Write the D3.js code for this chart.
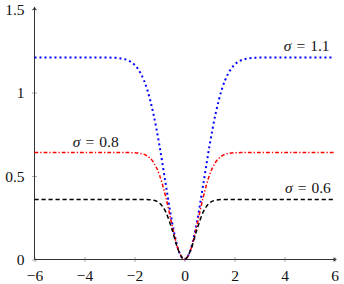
<!DOCTYPE html>
<html>
<head>
<meta charset="utf-8">
<script src="https://cdn.jsdelivr.net/npm/d3@7"></script>
<style>
  html, body { margin: 0; padding: 0; background: #fff; }
  svg { display: block; }
  svg text { font-family: "Liberation Serif", "DejaVu Serif", serif !important; }
</style>
</head>
<body>
<svg id="chart" width="344" height="284"></svg>
<script>
// ---- data ----
const xValues = [-6,-5,-4,-3.5,-3,-2.75,-2.5,-2.25,-2,-1.75,-1.5,-1.25,-1,-0.75,-0.5,-0.25,0,
                 0.25,0.5,0.75,1,1.25,1.5,1.75,2,2.25,2.5,2.75,3,3.5,4,5,6];
const sigma11 = [1.21,1.21,1.21,1.21,1.209,1.208,1.203,1.192,1.166,1.114,1.022,0.877,0.681,0.450,0.226,0.061,0,
                 0.061,0.226,0.450,0.681,0.877,1.022,1.114,1.166,1.192,1.203,1.208,1.209,1.21,1.21,1.21,1.21];
const sigma08 = [0.64,0.64,0.64,0.64,0.64,0.64,0.64,0.64,0.639,0.635,0.621,0.584,0.506,0.374,0.207,0.060,0,
                 0.060,0.207,0.374,0.506,0.584,0.621,0.635,0.639,0.64,0.64,0.64,0.64,0.64,0.64,0.64,0.64];
const sigma06 = [0.36,0.36,0.36,0.36,0.36,0.36,0.36,0.36,0.36,0.36,0.359,0.355,0.338,0.285,0.180,0.057,0,
                 0.057,0.180,0.285,0.338,0.355,0.359,0.36,0.36,0.36,0.36,0.36,0.36,0.36,0.36,0.36,0.36];
const seriesNames = ["1.1", "0.8", "0.6"];
const xTicks = [-6,-4,-2,0,2,4,6];
const xTickLabels = ["\u22126","\u22124","\u22122","0","2","4","6"];
const yTicks = [0,0.5,1,1.5];
const yTickLabels = ["0","0.5","1","1.5"];

// ---- layout ----
const svg = d3.select("#chart");
const x = d3.scaleLinear().domain([-6, 6]).range([34.5, 334.5]);
const y = d3.scaleLinear().domain([0, 1.5]).range([259.5, 9]);

const axisColor = "#333";
const fontSize = 15.5;

// x axis ticks & labels
const gx = svg.append("g").attr("transform", `translate(0,${y(0)})`)
  .call(d3.axisBottom(x).tickValues(xTicks).tickFormat((d,i) => xTickLabels[i]).tickSize(3));
gx.attr("font-family", null).attr("font-size", null);
gx.select(".domain").remove();
gx.selectAll(".tick line").attr("y1", -2.5).attr("y2", 2.5).attr("stroke", "#999").attr("stroke-width", 0.8);
gx.selectAll(".tick text").attr("y", 21).attr("dy", null)
  .attr("font-size", fontSize).attr("fill", "#111");

// y axis ticks & labels
const gy = svg.append("g").attr("transform", `translate(${x(-6)},0)`)
  .call(d3.axisLeft(y).tickValues(yTicks).tickFormat((d,i) => yTickLabels[i]).tickSize(3));
gy.attr("font-family", null).attr("font-size", null);
gy.select(".domain").remove();
gy.selectAll(".tick line").attr("x1", -2.5).attr("x2", 2.5).attr("stroke", "#999").attr("stroke-width", 0.8);
gy.selectAll(".tick text").attr("x", -10).attr("dy", "0.33em")
  .attr("font-size", fontSize).attr("fill", "#111");

// axis lines with arrows
svg.append("line").attr("x1", x(-6)).attr("x2", x(6) + 1.5)
  .attr("y1", y(0)).attr("y2", y(0)).attr("stroke", axisColor).attr("stroke-width", 1);
svg.append("line").attr("x1", x(-6)).attr("x2", x(-6))
  .attr("y1", y(0)).attr("y2", y(1.5) - 1.5).attr("stroke", axisColor).attr("stroke-width", 1);
const ax = x(6) + 2.5, ay = y(0);
svg.append("path").attr("d", `M${ax},${ay} L${ax-4},${ay-2.2} L${ax-3},${ay} L${ax-4},${ay+2.2} Z`).attr("fill", axisColor);
const bx = x(-6), by = y(1.5) - 2.5;
svg.append("path").attr("d", `M${bx},${by} L${bx-2.2},${by+4} L${bx},${by+3} L${bx+2.2},${by+4} Z`).attr("fill", axisColor);

// curves
const line = d3.line().x(d => x(d[0])).y(d => y(d[1])).curve(d3.curveMonotoneX);
const series = [
  { name: seriesNames[0], values: sigma11, color: "#0000ff", dash: "2 3", width: 2 },
  { name: seriesNames[1], values: sigma08, color: "#ff0000", dash: "3.8 2 1.3 2", width: 1.5 },
  { name: seriesNames[2], values: sigma06, color: "#000000", dash: "4.2 2.8", width: 1.5 }
];
series.forEach(s => {
  svg.append("path")
    .datum(xValues.map((xv, i) => [xv, s.values[i]]))
    .attr("d", line)
    .attr("fill", "none")
    .attr("stroke", s.color)
    .attr("stroke-width", s.width)
    .attr("stroke-dasharray", s.dash);
});

// labels
function label(xv, yv, name, anchor) {
  const t = svg.append("text").attr("x", x(xv)).attr("y", y(yv) - 6)
    .attr("text-anchor", anchor).attr("font-size", fontSize).attr("fill", "#111");
  t.append("tspan").attr("font-style", "italic").text("\u03c3");
  t.append("tspan").attr("dx", 5).text("=");
  t.append("tspan").attr("dx", 5).text(name);
}
label(5.8, 1.21, seriesNames[0], "end");
label(-3.55, 0.64, seriesNames[1], "middle");
label(5.85, 0.36, seriesNames[2], "end");
</script>
</body>
</html>
